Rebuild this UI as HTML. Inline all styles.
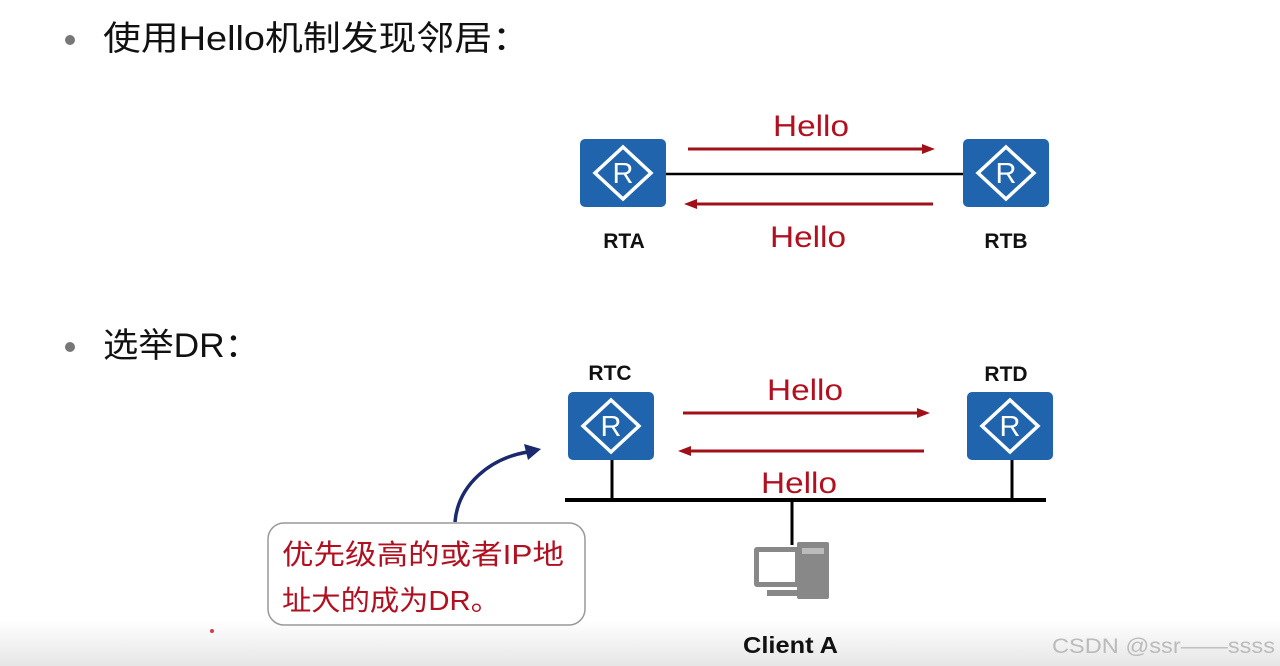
<!DOCTYPE html>
<html><head><meta charset="utf-8"><style>
html,body{margin:0;padding:0;width:1280px;height:666px;overflow:hidden;background:#fff}
svg{display:block}
</style></head><body>
<svg width="1280" height="666" viewBox="0 0 1280 666" xmlns="http://www.w3.org/2000/svg">
<defs>
<linearGradient id="bg" x1="0" y1="0" x2="0" y2="1"><stop offset="0" stop-color="#ffffff"/><stop offset="1" stop-color="#e6e6e6"/></linearGradient>
<g id="r">
<rect x="0" y="0" width="86" height="68" rx="5" fill="#1f64ad"/>
<polygon points="43,8 71,34 43,60 15,34" fill="none" stroke="#fff" stroke-width="3.5"/>
<text x="43" y="44" font-family="Liberation Sans,sans-serif" font-size="29" fill="#fff" text-anchor="middle">R</text>
</g>
</defs>
<rect x="0" y="620" width="1280" height="46" fill="url(#bg)"/>
<g font-family="Liberation Sans,'Noto Sans CJK SC',sans-serif">
<circle cx="70" cy="40" r="5" fill="#777"/>
<text x="103" y="50" font-size="34" fill="#111" textLength="427" lengthAdjust="spacingAndGlyphs">使用Hello机制发现邻居：</text>
<circle cx="70" cy="347" r="5" fill="#777"/>
<text x="103" y="357" font-size="34" fill="#111" textLength="157" lengthAdjust="spacingAndGlyphs">选举DR：</text>

<line x1="666" y1="174" x2="963" y2="174" stroke="#000" stroke-width="2.5"/>
<use href="#r" x="580" y="139"/>
<use href="#r" x="963" y="139"/>
<line x1="688" y1="149" x2="925" y2="149" stroke="#a01018" stroke-width="3"/>
<polygon points="935,149 922,144 922,154" fill="#a01018"/>
<line x1="694" y1="204" x2="933" y2="204" stroke="#a01018" stroke-width="3"/>
<polygon points="684,204 697,199 697,209" fill="#a01018"/>
<text x="773" y="136" font-size="30" fill="#b01020" textLength="76" lengthAdjust="spacingAndGlyphs">Hello</text>
<text x="770" y="247" font-size="30" fill="#b01020" textLength="76" lengthAdjust="spacingAndGlyphs">Hello</text>
<text x="624" y="248" font-size="21" font-weight="bold" fill="#111" text-anchor="middle">RTA</text>
<text x="1006" y="248" font-size="21" font-weight="bold" fill="#111" text-anchor="middle">RTB</text>

<text x="610" y="380" font-size="21" font-weight="bold" fill="#111" text-anchor="middle">RTC</text>
<text x="1006" y="381" font-size="21" font-weight="bold" fill="#111" text-anchor="middle">RTD</text>
<use href="#r" x="568" y="392"/>
<use href="#r" x="967" y="392"/>
<line x1="612" y1="460" x2="612" y2="500" stroke="#000" stroke-width="3"/>
<line x1="1012" y1="460" x2="1012" y2="500" stroke="#000" stroke-width="3"/>
<line x1="565" y1="500" x2="1046" y2="500" stroke="#000" stroke-width="4"/>
<line x1="792" y1="500" x2="792" y2="545" stroke="#000" stroke-width="3"/>
<line x1="683" y1="413" x2="920" y2="413" stroke="#a01018" stroke-width="3"/>
<polygon points="930,413 917,408 917,418" fill="#a01018"/>
<line x1="688" y1="451" x2="924" y2="451" stroke="#a01018" stroke-width="3"/>
<polygon points="678,451 691,446 691,456" fill="#a01018"/>
<text x="767" y="400" font-size="30" fill="#b01020" textLength="76" lengthAdjust="spacingAndGlyphs">Hello</text>
<text x="761" y="493" font-size="30" fill="#b01020" textLength="76" lengthAdjust="spacingAndGlyphs">Hello</text>

<rect x="797" y="542" width="32" height="57" rx="2" fill="#888"/>
<rect x="802" y="548" width="22" height="6" fill="#bbb"/>
<rect x="754" y="547" width="46" height="40" rx="3" fill="#888"/>
<rect x="759" y="552" width="36" height="30" fill="#fff"/>
<rect x="767" y="590" width="30" height="6" fill="#888"/>
<text x="743" y="653" font-size="23" font-weight="bold" fill="#111" textLength="95" lengthAdjust="spacingAndGlyphs">Client A</text>

<path d="M455,522 C458,485 490,458 528,452" fill="none" stroke="#1a2a6c" stroke-width="3.5"/>
<polygon points="541,449 524,444 528,460" fill="#1a2a6c"/>
<rect x="268" y="523" width="317" height="102" rx="16" fill="#fff" stroke="#999" stroke-width="1.5"/>
<text x="282" y="564" font-size="28" fill="#b01020" textLength="282" lengthAdjust="spacingAndGlyphs">优先级高的或者IP地</text>
<text x="282" y="610" font-size="28" fill="#b01020" textLength="218" lengthAdjust="spacingAndGlyphs">址大的成为DR。</text>
<circle cx="212" cy="631" r="2" fill="#d04040"/>

<text x="1052" y="653" font-size="21" fill="#bbb" textLength="223" lengthAdjust="spacingAndGlyphs">CSDN @ssr——ssss</text>
</g>
</svg>
</body></html>
